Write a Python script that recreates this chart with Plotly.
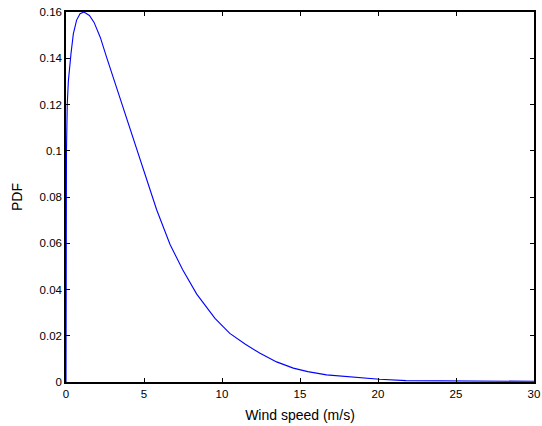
import plotly.graph_objects as go

wind_speed = [0, 0.002, 0.005, 0.015, 0.03, 0.08, 0.15, 0.32, 0.47, 0.68, 0.9, 1.15, 1.5, 1.8, 2.2,
              2.6, 3.1, 3.67, 4.42, 5.28, 5.81, 6.67, 7.48, 8.38, 9.55, 10.5, 11.5,
              12.44, 13.5, 14.57, 15.5, 16.7, 18.74, 20.1, 21.8, 25, 30]
pdf = [0, 0.04, 0.06, 0.085, 0.10, 0.12, 0.13, 0.142, 0.1505, 0.1565, 0.1593, 0.160, 0.1585, 0.1555, 0.149,
       0.1405, 0.1302, 0.1185, 0.103, 0.085, 0.0745, 0.0595, 0.0485, 0.038, 0.0275, 0.021, 0.0163,
       0.0124, 0.0087, 0.006, 0.0045, 0.0031, 0.0019, 0.0012, 0.0006, 0.0004, 0.0003]

x_ticks = [0, 5, 10, 15, 20, 25, 30]
y_ticks = [0, 0.02, 0.04, 0.06, 0.08, 0.1, 0.12, 0.14, 0.16]
y_tick_labels = ["0", "0.02", "0.04", "0.06", "0.08", "0.1", "0.12", "0.14", "0.16"]

fig = go.Figure()
fig.add_trace(go.Scatter(x=wind_speed, y=pdf, mode="lines",
                         line=dict(color="#0000ff", width=1.1),
                         showlegend=False))

font = dict(family="Liberation Sans, Arial, sans-serif", size=11.5, color="black")
fig.update_layout(
    width=542, height=426,
    margin=dict(l=66, r=8, t=12, b=44),
    paper_bgcolor="white", plot_bgcolor="white",
    font=font,
    xaxis=dict(range=[0, 30], tickvals=x_ticks, ticks="inside", ticklen=4,
               tickcolor="black", showline=True, linecolor="black", linewidth=1.5,
               mirror="ticks", showgrid=False, zeroline=False, automargin=False,
               ticklabeloverflow="allow",
               title=dict(text="Wind speed (m/s)", standoff=12)),
    yaxis=dict(range=[0, 0.16], tickvals=y_ticks, ticktext=y_tick_labels,
               ticks="inside", ticklen=4, tickcolor="black", showline=True,
               linecolor="black", linewidth=1.5, mirror="ticks", showgrid=False,
               zeroline=False, automargin=False, ticklabeloverflow="allow",
               title=dict(text="PDF", standoff=14)),
)
fig.write_html("out.html", config={"displayModeBar": False},
               post_script="document.body.style.margin='0';")
